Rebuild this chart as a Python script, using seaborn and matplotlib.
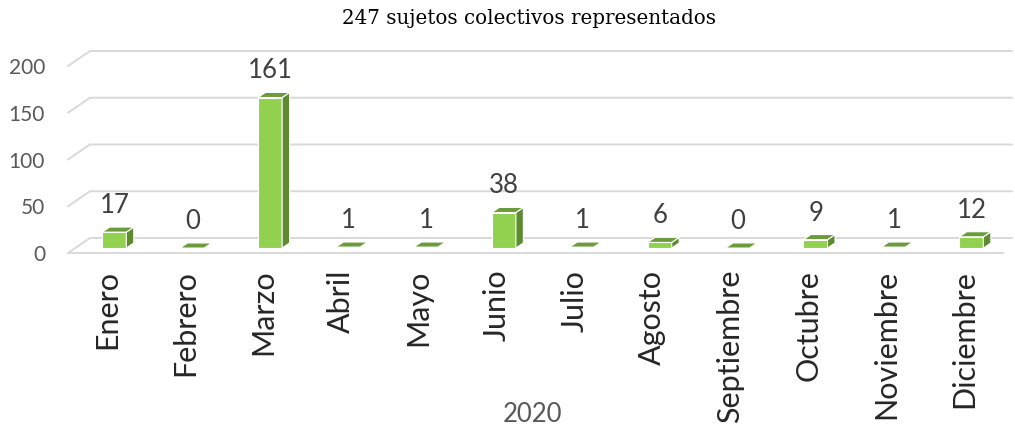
import matplotlib
matplotlib.use("Agg")
import matplotlib.pyplot as plt
from matplotlib.patches import Polygon
import seaborn as sns

# Data
meses = ["Enero", "Febrero", "Marzo", "Abril", "Mayo", "Junio",
         "Julio", "Agosto", "Septiembre", "Octubre", "Noviembre", "Diciembre"]
valores = [17, 0, 161, 1, 1, 38, 1, 6, 0, 9, 1, 12]
yticks = [0, 50, 100, 150, 200]
titulo = "247 sujetos colectivos representados"
anio = "2020"

# Colours
FRONT = "#92D050"
TOP = "#6B9B3A"
SIDE = "#5E8A30"
GRID = "#D9D9D9"

sns.set_theme(style="white")
plt.rcParams["font.family"] = ["Lato", "DejaVu Sans"]

W, H = 1015, 429
fig = plt.figure(figsize=(W / 100, H / 100), dpi=100)
# front plane of the 3-D box, in pixels
left_px, right_px, floor_px, top_px = 68, 1003, 253, 66
ax = fig.add_axes([left_px / W, (H - floor_px) / H,
                   (right_px - left_px) / W, (floor_px - top_px) / H])
ax.set_xlim(-0.5, len(meses) - 0.5)
ax.set_ylim(0, 200)

px_x = (right_px - left_px) / len(meses)   # pixels per category
px_y = (floor_px - top_px) / 200           # pixels per unit

# depth of the box (back wall offset)
DX = 22 / px_x
DY = 15 / px_y
f0, f1 = 0.33, 0.67   # bar front/back depth fractions

# back wall gridlines with diagonal to the front left edge
x_end = (1012 - left_px) / px_x - 0.5
for v in yticks:
    ax.plot([-0.5, -0.5 + DX, x_end], [v, v + DY, v + DY],
            color=GRID, lw=1.4, clip_on=False, zorder=0.5,
            solid_joinstyle="miter")
# front floor edge
ax.plot([-0.5, len(meses) - 0.5], [0, 0], color=GRID, lw=1.4,
        clip_on=False, zorder=0.5)

sns.barplot(x=meses, y=valores, color=FRONT, width=0.31, ax=ax,
            saturation=1, edgecolor="white", linewidth=0.8, zorder=3)

for i, p in enumerate(ax.patches):
    p.set_clip_on(False)
    x0 = p.get_x() + f0 * DX
    w = p.get_width()
    h = p.get_height()
    p.set_x(x0)
    p.set_y(f0 * DY)
    base = f0 * DY
    top = base + h
    x1 = x0 + w
    dd = (f1 - f0) * DX
    ddy = (f1 - f0) * DY
    top_face = Polygon([(x0, top), (x1, top), (x1 + dd, top + ddy), (x0 + dd, top + ddy)],
                       closed=True, facecolor=TOP, edgecolor="white", lw=0.8,
                       zorder=3, clip_on=False)
    side_face = Polygon([(x1, base), (x1 + dd, base + ddy), (x1 + dd, top + ddy), (x1, top)],
                        closed=True, facecolor=SIDE, edgecolor="white", lw=0.8,
                        zorder=3, clip_on=False)
    ax.add_patch(side_face)
    ax.add_patch(top_face)
    ax.text(i + 0.1, top + ddy + 14 / px_y, f"{valores[i]}",
            ha="center", va="baseline", fontsize=18.5, color="#404040",
            zorder=4, clip_on=False)

for s in ax.spines.values():
    s.set_visible(False)
ax.set_yticks(yticks)
ax.set_yticklabels([str(t) for t in yticks], fontsize=15, color="#595959")
ax.tick_params(axis="y", length=0, pad=16.5)
ax.set_xticks(range(len(meses)))
ax.set_xticklabels(meses, rotation=90, fontsize=22, color="#262626")
ax.tick_params(axis="x", length=0, pad=12)
ax.set_xlabel("")
ax.set_ylabel("")
ax.grid(False)

fig.text(529 / W, 1 - 18 / H, titulo, ha="center", va="center",
         fontsize=14.3, family=["DejaVu Serif"], color="#000000")
fig.text(532 / W, 1 - 414 / H, anio, ha="center", va="center",
         fontsize=18.5, color="#595959")

fig.savefig("out.png", dpi=100, facecolor="white")
